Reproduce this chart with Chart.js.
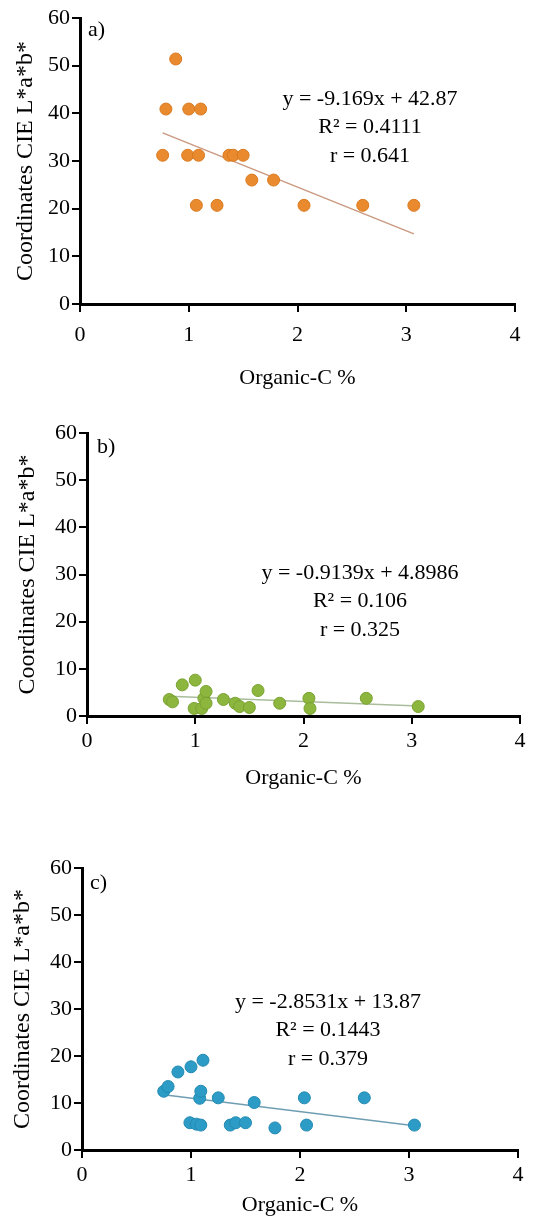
<!DOCTYPE html>
<html>
<head>
<meta charset="utf-8">
<script src="https://cdn.jsdelivr.net/npm/chart.js@4.4.0/dist/chart.umd.min.js"></script>
<style>
  html, body { margin: 0; padding: 0; background: #fff; }
  body { width: 557px; height: 1222px; position: relative; overflow: hidden; }
  .panel { position: absolute; left: 0; width: 557px; }
</style>
</head>
<body>
<div class="panel" style="top:0;height:407px"><canvas id="chartA"></canvas></div>
<div class="panel" style="top:407px;height:407px"><canvas id="chartB"></canvas></div>
<div class="panel" style="top:814px;height:408px"><canvas id="chartC"></canvas></div>

<script>
// a) - orange
const xA = [0.76, 0.79, 0.88, 0.99, 1.00, 1.07, 1.09, 1.11, 1.26, 1.37, 1.41, 1.50, 1.58, 1.78, 2.06, 2.60, 3.07];
const yA = [31.2, 40.9, 51.4, 31.2, 40.9, 20.7, 31.2, 40.9, 20.7, 31.2, 31.2, 31.2, 26.0, 26.0, 20.7, 20.7, 20.7];
const fitA = { slope: -9.169, intercept: 42.87 };
const eqA = ['y = -9.169x + 42.87', 'R² = 0.4111', 'r = 0.641'];

// b) - green
const xB = [0.76, 0.79, 0.88, 0.99, 1.00, 1.06, 1.08, 1.10, 1.10, 1.26, 1.37, 1.41, 1.50, 1.58, 1.78, 2.05, 2.06, 2.58, 3.06];
const yB = [3.5, 3.0, 6.6, 1.6, 7.6, 1.6, 3.75, 5.2, 2.7, 3.5, 2.7, 2.0, 1.8, 5.4, 2.7, 3.75, 1.6, 3.75, 2.0];
const fitB = { slope: -0.9139, intercept: 4.8986 };
const eqB = ['y = -0.9139x + 4.8986', 'R² = 0.106', 'r = 0.325'];

// c) - blue
const xC = [0.75, 0.79, 0.88, 0.99, 1.00, 1.05, 1.08, 1.09, 1.09, 1.11, 1.25, 1.36, 1.41, 1.50, 1.58, 1.77, 2.04, 2.06, 2.59, 3.05];
const yC = [12.5, 13.5, 16.6, 5.8, 17.7, 5.5, 11.0, 12.5, 5.3, 19.1, 11.1, 5.3, 5.8, 5.8, 10.1, 4.7, 11.1, 5.3, 11.1, 5.3];
const fitC = { slope: -2.8531, intercept: 13.87 };
const eqC = ['y = -2.8531x + 13.87', 'R² = 0.1443', 'r = 0.379'];

const xTicks = [0, 1, 2, 3, 4];
const yTicks = [0, 10, 20, 30, 40, 50, 60];
const xTitle = 'Organic-C %';
const yTitle = 'Coordinates CIE L*a*b*';

const FONT = "'Liberation Serif', 'Times New Roman', serif";

// texte dans la zone du graphe (label du panneau + équation)
const notesPlugin = {
    id: 'notes',
    afterDraw(chart, args, opts) {
        const ctx = chart.ctx;
        const area = chart.chartArea;
        ctx.save();
        ctx.fillStyle = '#000';
        ctx.font = '22px ' + FONT;
        ctx.textBaseline = 'middle';
        ctx.textAlign = 'left';
        ctx.fillText(opts.label, area.left + opts.labelDx, area.top + opts.labelDy);
        ctx.textAlign = 'center';
        opts.lines.forEach((t, i) => {
            ctx.fillText(t, area.left + opts.eqDx, area.top + opts.eqDy + i * 28.5);
        });
        ctx.restore();
    }
};

function makeChart(id, xs, ys, fit, lines, style) {
    const points = xs.map((x, i) => ({ x: x, y: ys[i] }));
    const x0 = Math.min(...xs), x1 = Math.max(...xs);
    const trend = [x0, x1].map(x => ({ x: x, y: fit.slope * x + fit.intercept }));

    new Chart(document.getElementById(id), {
        type: 'scatter',
        data: {
            datasets: [
                {
                    data: points,
                    backgroundColor: style.color,
                    borderColor: style.edge,
                    borderWidth: 1,
                    pointRadius: 6,
                    order: 1
                },
                {
                    type: 'line',
                    data: trend,
                    borderColor: style.trend,
                    borderWidth: 1.5,
                    pointRadius: 0,
                    fill: false,
                    order: 2
                }
            ]
        },
        options: {
            responsive: true,
            maintainAspectRatio: false,
            animation: false,
            events: [],
            layout: { padding: { top: style.top, right: style.right, bottom: 0, left: 0 } },
            plugins: {
                legend: { display: false },
                tooltip: { enabled: false },
                notes: { label: style.label, labelDx: style.labelDx, labelDy: style.labelDy,
                         eqDx: style.eqDx, eqDy: style.eqDy, lines: lines }
            },
            scales: {
                x: {
                    type: 'linear',
                    min: 0, max: 4,
                    afterFit: s => { s.height = style.xHeight; },
                    afterBuildTicks: s => { s.ticks = xTicks.map(v => ({ value: v })); },
                    ticks: { color: '#000', font: { family: FONT, size: 22 }, padding: style.xPad, maxRotation: 0 },
                    grid: { drawOnChartArea: false, drawTicks: true, tickLength: 8, color: '#000', lineWidth: 2 },
                    border: { color: '#000', width: 3 },
                    title: { display: true, text: xTitle, color: '#000',
                             font: { family: FONT, size: 22 }, padding: { top: 0, bottom: style.xTitlePad } }
                },
                y: {
                    type: 'linear',
                    min: 0, max: 60,
                    afterFit: s => { s.width = style.left; },
                    afterBuildTicks: s => { s.ticks = yTicks.map(v => ({ value: v })); },
                    ticks: { color: '#000', font: { family: FONT, size: 22 }, padding: 2 },
                    grid: { drawOnChartArea: false, drawTicks: true, tickLength: 8, color: '#000', lineWidth: 2 },
                    border: { color: '#000', width: 3 },
                    title: { display: true, text: yTitle, color: '#000',
                             font: { family: FONT, size: 24 }, padding: { top: style.yTitlePad, bottom: 0 } }
                }
            }
        },
        plugins: [notesPlugin]
    });
}

makeChart('chartA', xA, yA, fitA, eqA, {
    color: '#ea8a2e', edge: '#d97a20', trend: '#c99a80',
    top: 18, right: 42, left: 80, xHeight: 103, xPad: 10, xTitlePad: 16, yTitlePad: 11,
    label: 'a)', labelDx: 8, labelDy: 12, eqDx: 290, eqDy: 81
});
makeChart('chartB', xB, yB, fitB, eqB, {
    color: '#8cb63e', edge: '#7aa232', trend: '#a9bc9c',
    top: 26, right: 37, left: 87, xHeight: 98, xPad: 4, xTitlePad: 23, yTitlePad: 13,
    label: 'b)', labelDx: 10, labelDy: 14, eqDx: 273, eqDy: 140
});
makeChart('chartC', xC, yC, fitC, eqC, {
    color: '#2c9cc6', edge: '#238ab2', trend: '#6f9db2',
    top: 54, right: 39, left: 82, xHeight: 72, xPad: 4, xTitlePad: 4, yTitlePad: 8,
    label: 'c)', labelDx: 8, labelDy: 15, eqDx: 246, eqDy: 134
});
</script>
</body>
</html>
